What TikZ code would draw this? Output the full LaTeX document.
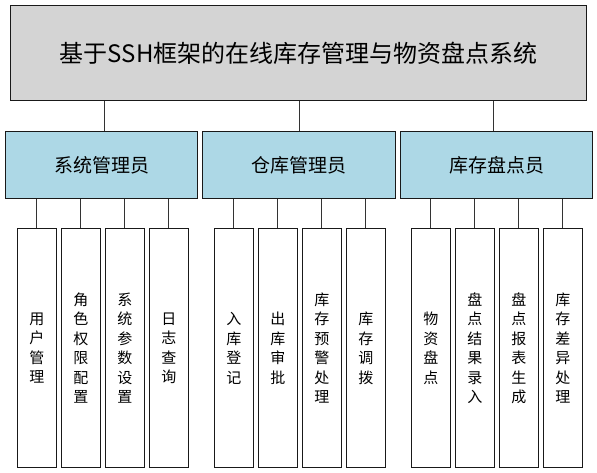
\documentclass[tikz,border=0pt]{standalone}
\usepackage{fontspec}
\newfontfamily\cjk{Noto Sans CJK SC}
\begin{document}
\begin{tikzpicture}[x=1pt,y=-1pt,
  box/.style={draw=black!90,line width=1.2pt,rectangle,inner sep=0pt,anchor=north west},
  topbox/.style={box,fill=black!17,minimum width=576pt,minimum height=95pt,font=\cjk\fontsize{24}{28}\selectfont},
  midbox/.style={box,fill={rgb,255:red,173;green,216;blue,230},minimum width=192pt,minimum height=67pt,font=\cjk\fontsize{19}{22}\selectfont},
  leaf/.style={box,fill=white,minimum width=38.5pt,minimum height=239pt,align=center,font=\cjk\fontsize{15}{19.5}\selectfont},
  link/.style={draw=black!80,line width=1.2pt}]
\useasboundingbox (0,0) rectangle (597,473);
\node[topbox] (top) at (10,5) {基于SSH框架的在线库存管理与物资盘点系统};
\node[midbox] (m1) at (5,131) {系统管理员};
\node[midbox,minimum width=193pt] (m2) at (202,131) {仓库管理员};
\node[midbox] (m3) at (400,131) {库存盘点员};
% leaves
\node[leaf] (a1) at (17,228) {用\\户\\管\\理};
\node[leaf] (a2) at (61,228) {角\\色\\权\\限\\配\\置};
\node[leaf] (a3) at (105,228) {系\\统\\参\\数\\设\\置};
\node[leaf] (a4) at (149,228) {日\\志\\查\\询};
\node[leaf] (b1) at (214,228) {入\\库\\登\\记};
\node[leaf] (b2) at (258,228) {出\\库\\审\\批};
\node[leaf] (b3) at (302,228) {库\\存\\预\\警\\处\\理};
\node[leaf] (b4) at (346,228) {库\\存\\调\\拨};
\node[leaf] (c1) at (411,228) {物\\资\\盘\\点};
\node[leaf] (c2) at (455,228) {盘\\点\\结\\果\\录\\入};
\node[leaf] (c3) at (499,228) {盘\\点\\报\\表\\生\\成};
\node[leaf] (c4) at (543,228) {库\\存\\差\\异\\处\\理};
% top links
\draw[link] ([xshift=3pt]m1.north) -- ([xshift=3pt]m1.north |- top.south);
\draw[link] (m2.north) -- (m2.north |- top.south);
\draw[link] ([xshift=-3pt]m3.north) -- ([xshift=-3pt]m3.north |- top.south);
% leaf links
\foreach \p/\l in {m1/a1,m1/a2,m1/a3,m1/a4,m2/b1,m2/b2,m2/b3,m2/b4,m3/c1,m3/c2,m3/c3,m3/c4}
  \draw[link] (\l.north) -- (\l.north |- \p.south);
\end{tikzpicture}
\end{document}
